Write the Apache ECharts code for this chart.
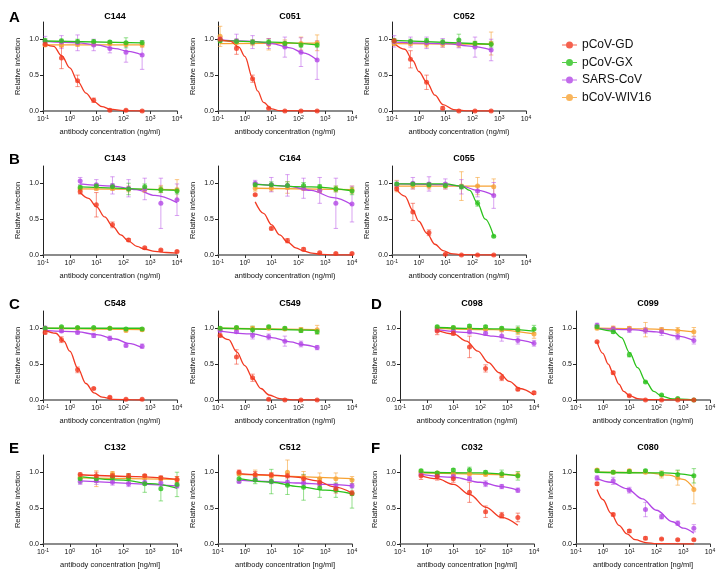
<!DOCTYPE html>
<html><head><meta charset="utf-8">
<script src="https://cdn.jsdelivr.net/npm/echarts@6/dist/echarts.min.js"></script>
<style>html,body{margin:0;padding:0;background:#fff}#c{width:720px;height:573px}</style>
</head><body><div id="c"></div>
<script>
// ---------------- DATA ----------------
const panelNames = ['C144','C051','C052','C143','C164','C055','C548','C549','C098','C099','C132','C512','C032','C080'];
const panelLetters = ['A','B','C','D','E','F'];
const virusNames = ['pCoV-GD','pCoV-GX','SARS-CoV','bCoV-WIV16'];
const yTickValues = [0, 0.5, 1.0];
const xTickValues = [0.1, 1, 10, 100, 1000, 10000];

// antibody concentrations (ng/ml)
const X_A = [0.12, 0.49, 1.95, 7.8, 31.25, 125, 500];
const X_B = [2.44, 9.77, 39.1, 156, 625, 2500, 10000];
const X_C = [0.15, 0.6, 2.4, 9.8, 39, 156, 625];
const X_D = [0.61, 2.44, 9.77, 39.1, 156, 625, 2500];
const X_E = [0.61, 2.44, 9.77, 39.1, 156, 625, 2500, 10000];
const panelX = [X_A, X_A, X_A, X_B, X_B, X_C, X_A, X_A, X_B, X_D, X_B, X_E, X_D, X_D];

// measured relative infection (one row per panel)
const GD_values = [
  [0.93,0.74,0.42,0.15,0.01,0.01,0.0],
  [1.0,0.87,0.45,0.04,0.0,0.0,0.0],
  [0.98,0.72,0.40,0.04,0.0,0.0,0.0],
  [0.88,0.70,0.42,0.21,0.10,0.07,0.05],
  [0.84,0.37,0.20,0.08,0.03,0.02,0.02],
  [0.92,0.60,0.31,0.01,0.0,0.0,0.0],
  [0.94,0.84,0.42,0.16,0.04,0.01,0.01],
  [0.90,0.60,0.31,0.01,0.0,0.0,0.0],
  [0.96,0.93,0.74,0.44,0.31,0.15,0.10],
  [0.81,0.38,0.06,0.0,0.0,0.0,0.0],
  [0.97,0.95,0.95,0.95,0.95,0.92,0.90],
  [1.0,0.97,0.96,0.95,0.91,0.86,0.77,0.71],
  [0.95,0.94,0.91,0.72,0.45,0.40,0.37],
  [0.84,0.41,0.18,0.08,0.07,0.06,0.06]
];
const GX_values = [
  [0.98,0.98,0.97,0.97,0.96,0.95,0.95],
  [0.98,0.97,0.96,0.96,0.94,0.92,0.92],
  [0.98,0.97,0.98,0.96,0.99,0.94,0.93],
  [0.94,0.96,0.95,0.92,0.95,0.91,0.89],
  [0.98,0.98,0.97,0.97,0.95,0.92,0.89],
  [0.99,0.99,0.98,0.97,0.95,0.72,0.26],
  [1.0,1.02,1.01,1.01,1.0,0.99,0.99],
  [1.0,1.01,0.98,1.02,1.0,0.97,0.95],
  [1.02,1.01,1.03,1.02,1.0,0.98,0.99],
  [1.02,0.95,0.63,0.25,0.07,0.02,0.0],
  [0.91,0.91,0.93,0.92,0.84,0.77,0.83],
  [0.91,0.89,0.87,0.82,0.79,0.78,0.75,0.70],
  [1.02,0.99,1.03,1.03,1.0,0.98,0.95],
  [1.02,1.0,1.01,1.02,0.98,0.97,0.95]
];
const SARS_values = [
  [0.97,0.96,0.95,0.92,0.87,0.82,0.78],
  [1.0,0.98,0.96,0.94,0.89,0.82,0.71],
  [0.97,0.96,0.95,0.95,0.94,0.89,0.85],
  [1.03,0.98,0.97,0.93,0.92,0.72,0.77],
  [1.0,0.98,0.97,0.93,0.90,0.72,0.71],
  [0.98,1.0,0.99,0.99,0.95,0.89,0.83],
  [1.0,0.96,0.94,0.90,0.86,0.76,0.75],
  [0.97,0.95,0.90,0.88,0.82,0.78,0.73],
  [0.98,0.96,0.95,0.93,0.89,0.83,0.79],
  [1.04,0.99,0.98,0.97,0.95,0.88,0.83],
  [0.87,0.88,0.86,0.84,0.86,0.85,0.81],
  [0.87,0.90,0.87,0.86,0.85,0.84,0.81,0.81],
  [0.97,0.95,0.94,0.91,0.84,0.80,0.75],
  [0.92,0.88,0.75,0.48,0.38,0.29,0.22]
];
const WIV_values = [
  [0.92,0.92,0.93,0.93,0.94,0.93,0.92],
  [1.04,0.95,0.95,0.93,0.94,0.94,0.95],
  [0.94,0.94,0.93,0.93,0.93,0.93,0.94],
  [0.92,0.93,0.93,0.92,0.91,0.92,0.91],
  [0.93,0.93,0.94,0.93,0.90,0.92,0.91],
  [0.96,0.96,0.96,0.96,0.96,0.96,0.95],
  [1.0,1.0,1.0,0.99,1.0,0.97,0.98],
  [0.99,1.0,1.0,1.0,0.99,0.98,0.98],
  [1.0,1.0,1.0,0.99,0.98,0.96,0.92],
  [1.0,1.0,1.0,0.98,0.98,0.97,0.95],
  [0.93,0.91,0.98,0.93,0.93,0.91,0.90],
  [0.98,0.96,0.95,1.0,0.93,0.91,0.91,0.89],
  [1.0,0.99,0.98,0.98,0.97,0.96,0.96],
  [1.03,1.0,1.02,1.0,0.97,0.92,0.76]
];

// error bar half-widths (SD)
const GD_errors = [
  [0.02,0.15,0.08,0.03,0.01,0.01,0.01],
  [0.03,0.08,0.05,0.01,0.005,0.005,0.005],
  [0.02,0.12,0.10,0.02,0.005,0.005,0.005],
  [0.03,0.17,0.04,0.02,0.01,0.01,0.01],
  [0.01,0.02,0.03,0.02,0.01,0.01,0.01],
  [0.02,0.12,0.04,0.01,0.005,0.005,0.005],
  [0.02,0.04,0.04,0.01,0.01,0.005,0.005],
  [0.02,0.10,0.05,0.01,0.005,0.005,0.005],
  [0.05,0.03,0.15,0.05,0.04,0.02,0.02],
  [0.01,0.02,0.01,0.005,0.005,0.005,0.005],
  [0.02,0.05,0.03,0.03,0.02,0.03,0.04],
  [0.03,0.04,0.03,0.03,0.05,0.05,0.06,0.03],
  [0.05,0.05,0.05,0.14,0.08,0.04,0.06],
  [0.02,0.02,0.02,0.02,0.01,0.01,0.01]
];
const GX_errors = [
  [0.03,0.02,0.03,0.02,0.02,0.07,0.03],
  [0.03,0.03,0.03,0.03,0.03,0.03,0.03],
  [0.03,0.03,0.03,0.03,0.08,0.03,0.04],
  [0.03,0.03,0.04,0.08,0.04,0.04,0.04],
  [0.03,0.04,0.05,0.04,0.03,0.04,0.05],
  [0.02,0.02,0.03,0.03,0.03,0.04,0.01],
  [0.01,0.01,0.01,0.01,0.01,0.01,0.01],
  [0.02,0.02,0.05,0.02,0.02,0.03,0.03],
  [0.02,0.02,0.02,0.02,0.02,0.05,0.05],
  [0.02,0.02,0.03,0.01,0.01,0.01,0.005],
  [0.06,0.05,0.05,0.06,0.12,0.17,0.17],
  [0.05,0.05,0.17,0.13,0.18,0.13,0.10,0.20],
  [0.02,0.02,0.02,0.04,0.02,0.05,0.06],
  [0.02,0.02,0.02,0.02,0.03,0.06,0.10]
];
const SARS_errors = [
  [0.07,0.09,0.11,0.08,0.06,0.14,0.20],
  [0.03,0.09,0.09,0.07,0.14,0.20,0.27],
  [0.08,0.07,0.08,0.06,0.06,0.14,0.15],
  [0.05,0.07,0.12,0.12,0.15,0.35,0.22],
  [0.04,0.10,0.15,0.14,0.18,0.35,0.25],
  [0.05,0.08,0.10,0.07,0.10,0.08,0.18],
  [0.03,0.02,0.02,0.03,0.03,0.02,0.03],
  [0.02,0.02,0.05,0.04,0.07,0.04,0.03],
  [0.03,0.02,0.03,0.03,0.07,0.05,0.04],
  [0.03,0.03,0.04,0.04,0.05,0.04,0.05],
  [0.04,0.05,0.04,0.04,0.04,0.05,0.03],
  [0.02,0.03,0.03,0.03,0.03,0.03,0.03,0.03],
  [0.02,0.02,0.03,0.03,0.04,0.03,0.03],
  [0.03,0.05,0.04,0.10,0.03,0.03,0.05]
];
const WIV_errors = [
  [0.02,0.02,0.03,0.02,0.02,0.03,0.03],
  [0.14,0.05,0.04,0.08,0.05,0.09,0.11],
  [0.03,0.03,0.04,0.04,0.04,0.04,0.16],
  [0.03,0.03,0.03,0.04,0.04,0.05,0.14],
  [0.04,0.04,0.08,0.03,0.03,0.04,0.05],
  [0.08,0.04,0.04,0.04,0.20,0.12,0.11],
  [0.01,0.01,0.01,0.01,0.01,0.02,0.02],
  [0.02,0.02,0.02,0.02,0.02,0.03,0.06],
  [0.02,0.02,0.02,0.02,0.03,0.05,0.06],
  [0.02,0.03,0.02,0.10,0.03,0.04,0.06],
  [0.03,0.11,0.03,0.04,0.03,0.03,0.04],
  [0.03,0.07,0.04,0.17,0.08,0.08,0.08,0.05],
  [0.02,0.02,0.02,0.02,0.02,0.03,0.04],
  [0.02,0.02,0.02,0.02,0.05,0.10,0.20]
];

// fitted dose-response curves as [concentration, relative infection]
const GD_fits = [
  [[0.12,0.93],[0.25,0.90],[0.5,0.77],[1,0.60],[2,0.41],[4,0.25],[8,0.13],[16,0.06],[32,0.025],[100,0.005],[500,0]],
  [[0.12,0.99],[0.3,0.97],[0.6,0.89],[1,0.76],[2,0.45],[3,0.28],[5,0.12],[10,0.03],[20,0.005],[500,0]],
  [[0.12,0.94],[0.3,0.86],[0.6,0.70],[1,0.55],[2,0.40],[4,0.22],[8,0.09],[20,0.02],[60,0.003],[500,0]],
  [[2.44,0.87],[5,0.79],[10,0.67],[20,0.53],[40,0.40],[80,0.28],[160,0.19],[320,0.12],[640,0.08],[1500,0.05],[4000,0.035],[10000,0.025]],
  [[2.44,0.74],[5,0.58],[10,0.42],[20,0.28],[40,0.18],[80,0.10],[160,0.055],[320,0.025],[700,0.01],[2000,0.003],[10000,0]],
  [[0.15,0.91],[0.3,0.82],[0.6,0.62],[1,0.47],[2,0.30],[4,0.15],[8,0.06],[16,0.02],[40,0.004],[625,0]],
  [[0.12,0.97],[0.3,0.93],[0.6,0.82],[1,0.68],[2,0.44],[4,0.23],[8,0.10],[16,0.04],[40,0.01],[500,0]],
  [[0.12,0.91],[0.25,0.84],[0.5,0.67],[1,0.48],[2,0.30],[4,0.16],[8,0.07],[20,0.02],[60,0.003],[500,0]],
  [[2.44,0.97],[10,0.92],[30,0.82],[80,0.68],[200,0.52],[500,0.38],[1200,0.26],[3000,0.16],[10000,0.07]],
  [[0.61,0.81],[1,0.65],[1.6,0.50],[2.44,0.37],[4,0.22],[6,0.12],[10,0.06],[20,0.02],[50,0.004],[2500,0]],
  [[2.44,0.965],[300,0.94],[10000,0.90]],
  [[0.61,0.98],[10,0.96],[100,0.93],[500,0.88],[2000,0.80],[10000,0.71]],
  [[0.61,0.95],[2.44,0.91],[10,0.83],[40,0.69],[160,0.51],[625,0.37],[2500,0.26]],
  [[0.61,0.76],[1,0.62],[2,0.43],[4,0.26],[8,0.14],[16,0.06],[40,0.02],[100,0.005],[2500,0]]
];
const GX_fits = [
  [[0.12,0.975],[500,0.95]],
  [[0.12,0.985],[10,0.96],[500,0.92]],
  [[0.12,0.985],[500,0.93]],
  [[2.44,0.95],[10000,0.90]],
  [[2.44,0.985],[300,0.95],[10000,0.895]],
  [[0.15,0.99],[10,0.99],[40,0.96],[80,0.90],[156,0.72],[300,0.50],[625,0.26]],
  [[0.12,1.0],[500,1.0]],
  [[0.12,1.0],[500,0.97]],
  [[2.44,1.01],[500,0.99],[10000,0.96]],
  [[0.61,1.0],[2.44,0.96],[5,0.87],[10,0.66],[20,0.45],[40,0.26],[80,0.12],[160,0.05],[400,0.015],[2500,0]],
  [[2.44,0.94],[100,0.89],[1000,0.84],[10000,0.78]],
  [[0.61,0.91],[10,0.86],[100,0.80],[1000,0.75],[10000,0.70]],
  [[0.61,1.0],[100,0.99],[2500,0.95]],
  [[0.61,1.0],[200,0.99],[2500,0.95]]
];
const SARS_fits = [
  [[0.12,0.97],[2,0.95],[10,0.92],[50,0.87],[150,0.83],[500,0.78]],
  [[0.12,0.99],[2,0.97],[10,0.94],[50,0.88],[150,0.81],[500,0.71]],
  [[0.12,0.96],[10,0.94],[100,0.90],[500,0.85]],
  [[2.44,0.99],[40,0.96],[300,0.91],[1500,0.83],[10000,0.73]],
  [[2.44,0.99],[40,0.96],[300,0.90],[2000,0.80],[10000,0.70]],
  [[0.15,0.99],[10,0.98],[40,0.96],[156,0.90],[625,0.83]],
  [[0.12,0.97],[2,0.95],[10,0.91],[50,0.85],[150,0.79],[500,0.73]],
  [[0.12,0.96],[2,0.92],[10,0.87],[50,0.81],[150,0.77],[500,0.73]],
  [[2.44,0.98],[40,0.94],[300,0.89],[2000,0.84],[10000,0.79]],
  [[0.61,0.995],[10,0.98],[100,0.95],[600,0.89],[2500,0.83]],
  [[2.44,0.88],[10000,0.81]],
  [[0.61,0.89],[10,0.87],[100,0.85],[1000,0.83],[10000,0.81]],
  [[0.61,0.97],[10,0.93],[100,0.86],[600,0.80],[2500,0.75]],
  [[0.61,0.91],[2,0.86],[8,0.77],[30,0.63],[100,0.47],[400,0.31],[1000,0.22],[2500,0.15]]
];
const WIV_fits = [
  [[0.12,0.92],[500,0.92]],
  [[0.12,0.94],[500,0.945]],
  [[0.12,0.94],[500,0.93]],
  [[2.44,0.92],[10000,0.91]],
  [[2.44,0.93],[10000,0.91]],
  [[0.15,0.96],[625,0.96]],
  [[0.12,1.0],[500,0.98]],
  [[0.12,1.0],[500,0.98]],
  [[2.44,1.0],[300,0.98],[10000,0.92]],
  [[0.61,1.0],[40,0.99],[2500,0.95]],
  [[2.44,0.92],[10000,0.90]],
  [[0.61,0.97],[10000,0.91]],
  [[0.61,0.99],[2500,0.96]],
  [[0.61,1.0],[40,0.995],[300,0.96],[1000,0.90],[2500,0.77]]
];

// ---------------- STYLE / LAYOUT ----------------
const FONT = "'Liberation Sans', Arial, Helvetica, sans-serif";
const colors = ['#f23a22', '#2bc21b', '#b347e6', '#f7a233'];
const errColors = ['rgba(242,58,34,0.55)', 'rgba(43,194,27,0.5)', 'rgba(179,71,230,0.5)', 'rgba(247,162,51,0.6)'];
const GW = 134, GH = 89;
const gridPos = [
  [43, 22], [218, 22], [392, 22],
  [43, 166], [218, 166], [392, 166],
  [43, 311], [218, 311], [400, 311], [576, 311],
  [43, 455], [218, 455], [400, 455], [576, 455]
];
const letterPos = [[4, 5], [4, 147], [4, 292], [366, 292], [4, 436], [366, 436]];

const valuesBy = [GD_values, GX_values, SARS_values, WIV_values];
const errorsBy = [GD_errors, GX_errors, SARS_errors, WIV_errors];
const fitsBy = [GD_fits, GX_fits, SARS_fits, WIV_fits];

const grids = [], xAxes = [], yAxes = [], titles = [], series = [];

panelLetters.forEach((L, i) => {
  titles.push({ text: L, left: letterPos[i][0], top: letterPos[i][1],
    textStyle: { fontFamily: FONT, fontSize: 15, fontWeight: 'bold', color: '#000' } });
});

function errRender(color) {
  return function (params, api) {
    const x = api.value(0), lo = api.value(1), hi = api.value(2);
    const a = api.coord([x, lo]), b = api.coord([x, hi]);
    const c = 2.2;
    const st = { stroke: color, lineWidth: 1 };
    return { type: 'group', children: [
      { type: 'line', shape: { x1: a[0], y1: a[1], x2: b[0], y2: b[1] }, style: st },
      { type: 'line', shape: { x1: a[0] - c, y1: a[1], x2: a[0] + c, y2: a[1] }, style: st },
      { type: 'line', shape: { x1: b[0] - c, y1: b[1], x2: b[0] + c, y2: b[1] }, style: st }
    ] };
  };
}

panelNames.forEach((name, p) => {
  const [gl, gt] = gridPos[p];
  grids.push({ left: gl, top: gt, width: GW, height: GH, containLabel: false });
  const row4 = p >= 10;
  xAxes.push({
    gridIndex: p, type: 'log', logBase: 10, min: 0.1, max: 10000,
    name: row4 ? 'antibody concentration [ng/ml]' : 'antibody concentration (ng/ml)',
    nameLocation: 'middle', nameGap: 17,
    nameTextStyle: { fontFamily: FONT, fontSize: 7.5, color: '#111' },
    axisLine: { show: true, onZero: false, lineStyle: { color: '#666', width: 1.6 } },
    axisTick: { show: true, length: 3, lineStyle: { color: '#333', width: 1 } },
    minorTick: { show: false },
    splitLine: { show: false },
    axisLabel: {
      margin: 4, color: '#111',
      formatter: v => '{b|10}{s|' + Math.round(Math.log10(v)) + '}',
      rich: {
        b: { fontFamily: FONT, fontSize: 7, lineHeight: 9, color: '#111' },
        s: { fontFamily: FONT, fontSize: 5, lineHeight: 9, verticalAlign: 'top', color: '#111', padding: [0, 0, 3, 0] }
      }
    }
  });
  yAxes.push({
    gridIndex: p, type: 'value', min: 0, max: 1.24,
    name: 'Relative infection', nameLocation: 'middle', nameGap: 21, nameRotate: 90,
    nameTextStyle: { fontFamily: FONT, fontSize: 7.5, color: '#111' },
    axisLine: { show: true, lineStyle: { color: '#222', width: 1 } },
    axisTick: { show: true, length: 3, customValues: yTickValues, lineStyle: { color: '#222', width: 1 } },
    splitLine: { show: false },
    axisLabel: { margin: 4, customValues: yTickValues, fontFamily: FONT, fontSize: 7, color: '#111',
      formatter: v => v.toFixed(1) }
  });
  titles.push({ text: name, left: gl + GW / 2, top: gt - (p < 3 ? 15 : 17), textAlign: 'center',
    textStyle: { fontFamily: FONT, fontSize: 9, fontWeight: 'bold', color: '#000' } });

  const xs = panelX[p];
  [3, 2, 1, 0].forEach(s => {
    const vals = valuesBy[s][p], errs = errorsBy[s][p];
    series.push({
      type: 'custom', xAxisIndex: p, yAxisIndex: p, silent: true, z: 2,
      renderItem: errRender(errColors[s]),
      encode: { x: 0, y: [1, 2] },
      data: xs.map((x, i) => [x, vals[i] - errs[i], vals[i] + errs[i]])
    });
    series.push({
      type: 'line', xAxisIndex: p, yAxisIndex: p, silent: true, z: 3,
      data: fitsBy[s][p], smooth: 0.35, smoothMonotone: 'x', showSymbol: false, symbol: 'none',
      lineStyle: { color: colors[s], width: 1.3 }, animation: false
    });
    series.push({
      type: 'scatter', name: virusNames[s], xAxisIndex: p, yAxisIndex: p, z: 4,
      data: xs.map((x, i) => [x, vals[i]]), symbol: 'circle', symbolSize: 5,
      itemStyle: { color: colors[s] }
    });
  });
});

const option = {
  animation: false,
  backgroundColor: '#fff',
  title: titles,
  grid: grids,
  xAxis: xAxes,
  yAxis: yAxes,
  legend: {
    data: virusNames, orient: 'vertical', left: 557, top: 34,
    itemWidth: 15, itemHeight: 7, itemGap: 5.5,
    icon: 'path://M0,3 H15 V4 H0 Z M7.5,0 A3.5,3.5 0 1,1 7.5,7 A3.5,3.5 0 1,1 7.5,0 Z',
    selectedMode: false,
    textStyle: { fontFamily: FONT, fontSize: 12, color: '#111' }
  },
  series: series
};
const chart = echarts.init(document.getElementById('c'), null, { renderer: 'canvas' });
chart.setOption(option);
</script>
</body></html>
